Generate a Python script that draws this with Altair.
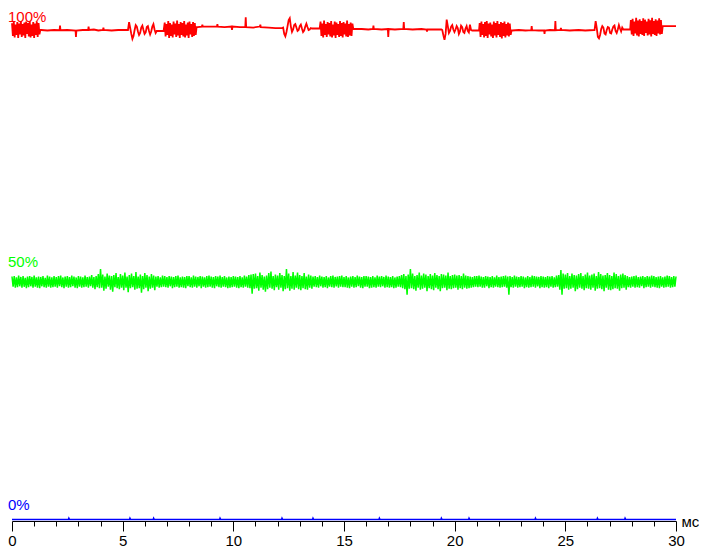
import altair as alt
import pandas as pd

# ---------------- data (time in ms, level in %) ----------------
RED_BURST_STARTS = [0.0, 6.9, 13.94, 21.13, 27.96]
RED_BURST_STEP = 0.04
RED_BURSTS = [
    [101.2, 98.6, 101.5, 98.3, 100.9, 98.8, 101.4, 98.2, 101.1, 98.9, 101.6, 98.4, 101.0, 98.7, 101.3, 98.2,
     101.5, 99.0, 101.2, 98.5, 101.6, 98.3, 100.9, 98.6, 101.4, 98.2, 101.1, 98.8, 101.5, 98.4, 101.2, 98.9, 99.8],
    [101.3, 98.5, 101.0, 98.8, 101.6, 98.2, 101.2, 98.6, 100.9, 98.3, 101.5, 98.9, 101.1, 98.4, 101.7, 98.7,
     101.0, 98.2, 101.4, 98.8, 101.2, 98.5, 101.6, 98.3, 100.9, 98.7, 101.3, 98.2, 101.5, 98.9, 101.0, 98.4,
     101.4, 98.6, 101.2, 98.8, 100.4],
    [101.5, 98.6, 101.1, 98.3, 101.7, 98.8, 101.0, 98.4, 101.4, 98.9, 101.2, 98.5, 101.6, 98.3, 100.9, 98.7,
     101.5, 98.2, 101.3, 98.8, 101.0, 98.4, 101.6, 98.6, 101.2, 98.3, 101.4, 98.9, 101.1, 98.5, 101.7, 98.4,
     101.0, 98.7, 101.3, 98.6, 101.1, 100.0],
    [101.2, 98.4, 101.5, 98.8, 101.0, 98.3, 101.4, 98.6, 101.6, 98.2, 101.1, 98.9, 101.3, 98.5, 100.9, 98.2,
     101.5, 98.7, 101.2, 98.3, 101.6, 98.8, 101.0, 98.4, 101.4, 98.1, 101.2, 98.6, 101.5, 98.3, 101.0, 98.7,
     101.3, 98.5, 101.1, 98.8, 99.7],
    [101.8, 98.9, 102.1, 98.6, 101.5, 99.1, 102.3, 98.7, 101.7, 98.5, 102.0, 99.0, 101.6, 98.8, 102.2, 98.6,
     101.9, 99.2, 101.5, 98.7, 102.1, 98.9, 101.8, 98.5, 102.3, 99.0, 101.6, 98.8, 102.0, 98.6, 101.7, 99.1,
     102.2, 98.9, 101.8, 99.0, 100.6],
]

RED_RING_STARTS = [5.24, 12.25, 19.44, 26.32]
RED_RING_STEP = 0.05
RED_RINGS = [
    [99.8, 101.4, 100.2, 99.0, 98.0, 98.6, 99.8, 100.8, 100.5, 99.5, 98.8, 99.2, 100.3, 100.7, 99.8, 99.0,
     99.3, 100.4, 100.6, 99.6, 98.9, 99.5, 100.5, 101.0, 99.9, 99.2, 99.6],
    [100.3, 99.0, 98.5, 99.4, 100.6, 101.8, 102.2, 100.5, 99.4, 99.9, 100.8, 101.0, 100.3, 99.6, 99.8, 100.6,
     100.9, 100.1, 99.4, 99.7, 100.5, 101.1, 100.4, 99.8, 99.9, 100.2, 100.1],
    [99.8, 98.7, 97.8, 99.0, 101.9, 100.6, 99.2, 99.6, 100.5, 100.8, 99.9, 99.4, 99.9, 100.6, 100.2, 99.0,
     99.5, 100.7, 100.4, 99.4, 99.2, 100.1, 100.6, 99.6, 99.3, 100.9, 99.8],
    [99.8, 101.6, 100.2, 98.4, 98.1, 98.8, 100.0, 100.6, 100.3, 99.1, 98.9, 99.8, 100.4, 100.3, 99.2, 99.1,
     99.9, 100.5, 100.7, 99.6, 99.2, 99.9, 100.8, 100.1, 99.5, 100.3, 99.9],
]

RED_FLAT_T = [1.32, 1.6, 1.9, 2.15, 2.17, 2.19, 2.5, 2.87, 2.89, 2.91, 3.2, 3.44, 3.46, 3.48, 3.7, 3.9,
              4.11, 4.13, 4.15, 4.5, 4.8, 5.1, 5.2,
              6.6, 6.85,
              8.38, 8.58, 8.6, 8.62, 8.9, 9.26, 9.28, 9.3, 9.6, 9.92, 9.94, 9.96, 10.3, 10.54, 10.56, 10.58,
              10.9, 11.2, 11.22, 11.24, 11.6, 11.9, 12.2,
              13.6, 13.9,
              15.46, 15.8, 16.1, 16.31, 16.33, 16.35, 16.7, 16.98, 17.0, 17.02, 17.3, 17.68, 17.7, 17.72,
              18.1, 18.5, 18.73, 18.75, 18.77, 19.1, 19.4,
              20.8, 21.1,
              22.6, 22.9, 23.2, 23.46, 23.48, 23.5, 23.8, 24.04, 24.06, 24.08, 24.3, 24.53, 24.55, 24.57,
              24.78, 24.8, 24.82, 25.2, 25.6, 25.9, 26.3,
              27.68, 27.93,
              29.45, 29.7, 30.0]
RED_FLAT_V = [99.8, 99.7, 99.8, 99.75, 100.7, 99.75, 99.8, 99.7, 98.4, 99.7, 99.8, 99.8, 100.5, 99.8, 99.9, 99.7,
              99.8, 100.3, 99.8, 99.7, 99.8, 99.8, 99.8,
              99.6, 99.6,
              100.4, 100.5, 100.85, 100.5, 100.5, 100.5, 101.0, 100.5, 100.4, 100.5, 99.8, 100.5, 100.4, 100.4,
              102.4, 100.4,
              100.3, 100.5, 100.9, 100.4, 100.3, 100.2, 100.2,
              100.1, 100.1,
              100.0, 100.0, 99.9, 100.0, 100.7, 100.0, 99.9, 100.0, 98.4, 100.0, 99.9, 100.0, 101.4, 100.0,
              99.9, 100.0, 99.9, 99.5, 99.9, 99.9, 99.9,
              99.7, 99.7,
              99.7, 99.8, 99.7, 99.75, 100.6, 99.75, 99.7, 99.7, 99.0, 99.7, 99.8, 99.75, 101.6, 99.75,
              99.8, 100.2, 99.8, 99.7, 99.8, 99.7, 99.8,
              99.9, 99.9,
              100.6, 100.6, 100.6]

GREEN_STEP = 0.05
GREEN_CENTER = 48.5
# deviations from the centre, in tenths of a percent, one row per millisecond
GREEN_DEV = [
    11, -10, 12, -12, 9, -11, 13, -9, 10, -12, 12, -10, 8, -13, 11, -11, 12, -9, 10, -12,
    13, -10, 9, -12, 11, -13, 10, -9, 12, -11, 8, -12, 13, -10, 11, -12, 9, -11, 12, -10,
    10, -12, 12, -9, 13, -11, 9, -13, 11, -10, 12, -12, 10, -11, 13, -9, 11, -12, 9, -13,
    12, -10, 11, -12, 9, -11, 13, -10, 10, -12, 11, -9, 14, -12, 10, -15, 12, -11, 16, -13,
    26, -12, 15, -18, 11, -14, 17, -10, 13, -16, 12, -20, 14, -11, 18, -13, 10, -15, 16, -12,
    13, -17, 19, -12, 11, -21, 14, -13, 17, -11, 12, -16, 20, -14, 11, -13, 15, -22, 12, -15,
    18, -12, 14, -19, 11, -14, 16, -12, 13, -17, 11, -10, 12, -12, 9, -11, 13, -10, 12, -11,
    10, -12, 12, -9, 11, -13, 10, -11, 12, -10, 13, -12, 9, -11, 11, -12, 10, -13, 12, -9,
    12, -11, 9, -12, 13, -10, 11, -12, 10, -9, 12, -13, 11, -10, 9, -12, 12, -11, 13, -10,
    11, -12, 10, -13, 12, -9, 11, -11, 13, -12, 10, -10, 12, -11, 9, -13, 11, -12, 10, -11,
    12, -10, 11, -12, 10, -13, 12, -11, 9, -12, 13, -10, 11, -12, 14, -13, 15, -24, 16, -14,
    17, -13, 12, -18, 19, -12, 14, -16, 11, -20, 13, -15, 18, -12, 21, -14, 12, -17, 15, -11,
    13, -16, 18, -12, 14, -19, 12, -15, 26, -13, 17, -18, 12, -14, 20, -16, 13, -12, 19, -15,
    14, -17, 12, -13, 18, -15, 11, -16, 15, -12, 13, -14, 11, -10, 12, -11, 10, -12, 13, -9,
    11, -12, 10, -11, 12, -13, 9, -10, 12, -11, 13, -12, 10, -9, 11, -12, 12, -10, 13, -11,
    10, -11, 12, -12, 9, -13, 11, -10, 12, -12, 10, -11, 13, -9, 11, -12, 10, -13, 12, -10,
    12, -10, 11, -13, 10, -12, 12, -11, 9, -12, 13, -10, 11, -11, 12, -9, 10, -12, 13, -11,
    11, -12, 10, -11, 12, -13, 9, -12, 11, -10, 12, -11, 14, -13, 16, -15, 12, -26, 15, -14,
    26, -13, 17, -15, 12, -18, 14, -12, 19, -16, 13, -14, 17, -12, 15, -19, 12, -13, 16, -15,
    13, -17, 18, -12, 14, -15, 12, -19, 16, -13, 15, -12, 13, -17, 19, -14, 12, -15, 14, -13,
    15, -12, 13, -16, 14, -13, 12, -15, 17, -12, 13, -14, 12, -13, 11, -12, 10, -11, 12, -10,
    12, -11, 13, -10, 11, -12, 10, -12, 12, -9, 11, -13, 10, -11, 12, -12, 9, -10, 13, -11,
    10, -12, 11, -11, 12, -10, 13, -12, 11, -26, 12, -11, 10, -12, 13, -10, 11, -12, 10, -11,
    12, -10, 11, -13, 9, -11, 12, -12, 10, -11, 13, -10, 12, -12, 11, -9, 10, -13, 12, -11,
    11, -12, 10, -11, 12, -13, 11, -10, 12, -12, 9, -11, 13, -10, 14, -16, 24, -26, 17, -14,
    15, -13, 18, -16, 12, -14, 17, -12, 14, -19, 13, -15, 16, -12, 18, -14, 12, -17, 15, -13,
    19, -14, 13, -16, 15, -12, 17, -18, 12, -14, 20, -13, 16, -15, 13, -19, 14, -12, 18, -16,
    14, -17, 12, -15, 19, -13, 16, -14, 12, -18, 15, -13, 17, -12, 14, -16, 12, -11, 10, -12,
    11, -10, 12, -12, 13, -11, 10, -12, 11, -9, 12, -13, 10, -11, 12, -10, 11, -12, 13, -10,
    12, -11, 10, -12, 11, -13, 12, -10, 9, -12, 11, -11, 13, -10, 12, -12, 10, -11, 12, -10,
    11,
]

BLUE_T = [0.0, 2.55, 2.57, 2.6, 5.31, 5.33, 5.36, 6.38, 6.4, 6.43, 9.38, 9.4, 9.43, 12.18, 12.2, 12.23,
          13.58, 13.6, 13.63, 16.58, 16.6, 16.63, 19.38, 19.4, 19.43, 20.63, 20.65, 20.68, 23.63, 23.65,
          23.68, 26.43, 26.45, 26.48, 27.68, 27.7, 27.73, 30.0]
BLUE_V = [0.1, 0.1, 0.35, 0.1, 0.1, 0.35, 0.1, 0.1, 0.35, 0.1, 0.1, 0.35, 0.1, 0.1, 0.35, 0.1,
          0.1, 0.35, 0.1, 0.1, 0.35, 0.1, 0.1, 0.35, 0.1, 0.1, 0.35, 0.1, 0.1, 0.35,
          0.1, 0.1, 0.35, 0.1, 0.1, 0.35, 0.1, 0.1]

X_TICKS = list(range(0, 31))
LEVEL_LABELS = ["100%", "50%", "0%"]
LEVEL_VALUES = [100, 50, 0]
LEVEL_COLORS = ["#ff0000", "#00ff00", "#0000ff"]
LEVEL_DY = [-7, -7.5, -10]

# ---------------- build tables ----------------
red_rows = []
for start, vals in zip(RED_BURST_STARTS, RED_BURSTS):
    red_rows += [(round(start + i * RED_BURST_STEP, 4), v) for i, v in enumerate(vals)]
for start, vals in zip(RED_RING_STARTS, RED_RINGS):
    red_rows += [(round(start + i * RED_RING_STEP, 4), v) for i, v in enumerate(vals)]
red_rows += list(zip(RED_FLAT_T, RED_FLAT_V))
red_df = pd.DataFrame(sorted(red_rows), columns=["t", "v"])

green_df = pd.DataFrame({
    "t": [round(i * GREEN_STEP, 4) for i in range(len(GREEN_DEV))],
    "v": [GREEN_CENTER + d / 10 for d in GREEN_DEV],
})
blue_df = pd.DataFrame({"t": BLUE_T, "v": BLUE_V})

FONT = "Liberation Sans"

x_enc = alt.X(
    "t:Q",
    scale=alt.Scale(domain=[0, 30], nice=False, zero=False),
    axis=alt.Axis(
        values=X_TICKS,
        tickSize={"condition": {"test": "datum.value % 5 === 0", "value": 10}, "value": 5},
        labelExpr="datum.value % 5 === 0 ? datum.label : ''",
        labelFont=FONT, labelFontSize=15, labelColor="black",
        labelBaseline="top", labelPadding=2.5, labelFlush=False, labelOverlap=False,
        tickColor="black", tickWidth=1, domainColor="black", domainWidth=1,
        grid=False,
        title="мс", titleFont=FONT, titleFontSize=15, titleFontWeight="normal",
        titleColor="black", titleAlign="left", titleBaseline="alphabetic",
        titleX=669, titleY=5, titleAngle=0,
    ),
)
y_enc = alt.Y("v:Q", scale=alt.Scale(domain=[-0.2037, 104.28], nice=False, zero=False), axis=None)

red = alt.Chart(red_df).mark_line(color="#ff0000", strokeWidth=1.8).encode(x=x_enc, y=y_enc, order="t:Q")
green = alt.Chart(green_df).mark_line(color="#00ff00", strokeWidth=1.5).encode(x=x_enc, y=y_enc, order="t:Q")
blue = alt.Chart(blue_df).mark_line(color="#0000ff", strokeWidth=1.6).encode(x=x_enc, y=y_enc, order="t:Q")

texts = []
for lab, val, col, dy in zip(LEVEL_LABELS, LEVEL_VALUES, LEVEL_COLORS, LEVEL_DY):
    tdf = pd.DataFrame({"t": [0.0], "v": [val], "label": [lab]})
    texts.append(
        alt.Chart(tdf).mark_text(
            align="left", baseline="alphabetic", dx=-4, dy=dy,
            font=FONT, fontSize=15, color=col,
        ).encode(x=x_enc, y=y_enc, text="label:N")
    )

chart = alt.layer(green, blue, red, *texts).properties(
    width=664,
    height=513,
    padding={"left": 4, "top": 0, "right": 23, "bottom": 28},
    autosize=alt.AutoSizeParams(type="none"),
    background="white",
).configure_view(stroke=None)

chart.save("out.html", embed_options={"renderer": "svg", "actions": False})
